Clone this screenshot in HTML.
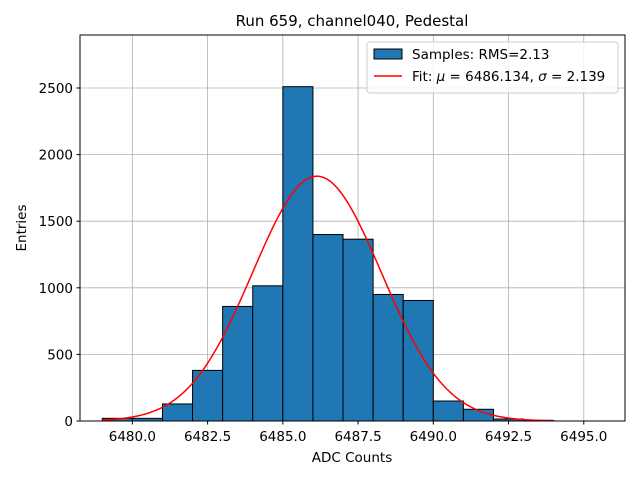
<!DOCTYPE html>
<html><head><meta charset="utf-8"><style>
body{margin:0;background:#fff;}
svg text{font-family:"DejaVu Sans","Liberation Sans",sans-serif;}
</style></head><body>
<svg id="chart" width="640" height="480" xmlns="http://www.w3.org/2000/svg">
<rect width="640" height="480" fill="#fff"/>
<g id="grid"></g>
<g id="bars"></g>
<path id="fit" fill="none" stroke="#ff0000" stroke-width="1.5"/>
<rect x="80" y="35" width="545" height="386" fill="none" stroke="#000" stroke-width="1"/>
<g id="ticks"></g>
<text x="352" y="26" font-size="15" text-anchor="middle">Run 659, channel040, Pedestal</text>
<text x="352" y="462" font-size="13.5" text-anchor="middle">ADC Counts</text>
<text x="26" y="228" font-size="13.5" text-anchor="middle" transform="rotate(-90 26 228)">Entries</text>
<g>
<rect x="367" y="42" width="251" height="51" rx="3" fill="#fff" fill-opacity="0.8" stroke="#ccc"/>
<rect x="374" y="49" width="28" height="10" fill="#1f77b4" stroke="#000"/>
<text x="412" y="59" font-size="13.5">Samples: RMS=2.13</text>
<line x1="374" y1="76" x2="402" y2="76" stroke="#f00" stroke-width="1.5"/>
<text x="412" y="81" font-size="13.5">Fit: <tspan font-style="italic">μ</tspan> = 6486.134, <tspan font-style="italic">σ</tspan> = 2.139</text>
</g>
</svg>
<script>
const binEdges=[6479,6480,6481,6482,6483,6484,6485,6486,6487,6488,6489,6490,6491,6492,6493,6494];
const counts=[20,20,128,380,860,1015,2510,1400,1365,950,905,150,88,15,5];
const xTicks=[6480,6482.5,6485,6487.5,6490,6492.5,6495];
const yTicks=[0,500,1000,1500,2000,2500];
const fitMu=6486.134, fitSigma=2.139, fitAmp=1838;
const X0=80,X1=625,Y0=421,Y1=35,xmin=6478.26,xmax=6496.37,ymin=0,ymax=2898;
const sx=v=>X0+(v-xmin)/(xmax-xmin)*(X1-X0);
const sy=v=>Y0-(v-ymin)/(ymax-ymin)*(Y0-Y1);
const NS='http://www.w3.org/2000/svg';
function mk(t,a,p){const e=document.createElementNS(NS,t);for(const k in a)e.setAttribute(k,a[k]);p.appendChild(e);return e;}
const grid=document.getElementById('grid'),ticks=document.getElementById('ticks'),bars=document.getElementById('bars');
xTicks.forEach(v=>{const x=sx(v);
 const g=mk('line',{x1:x,x2:x,y1:Y1,y2:Y0,stroke:'#b0b0b0','stroke-width':0.8},grid);
 
 
 mk('line',{x1:x,x2:x,y1:Y0,y2:Y0+3.5,stroke:'#000'},ticks);
 const t=mk('text',{x:x,y:Y0+20,'font-size':13.5,'text-anchor':'middle'},ticks);t.textContent=v.toFixed(1);
 
 });
yTicks.forEach(v=>{const y=sy(v);
 const g=mk('line',{x1:X0,x2:X1,y1:y,y2:y,stroke:'#b0b0b0','stroke-width':0.8},grid);
 
 
 mk('line',{x1:X0-3.5,x2:X0,y1:y,y2:y,stroke:'#000'},ticks);
 const t=mk('text',{x:X0-7,y:y+5,'font-size':13.5,'text-anchor':'end'},ticks);t.textContent=v;
 
 });
counts.forEach((c,i)=>{const x=sx(binEdges[i]),w=sx(binEdges[i+1])-x;
 const r=mk('rect',{x:x,y:sy(c),width:w,height:sy(0)-sy(c),fill:'#1f77b4',stroke:'#000','stroke-width':1},bars);
 
 });
let d='';const a=binEdges[0],b=binEdges[binEdges.length-1];
for(let i=0;i<=300;i++){const v=a+(b-a)*i/300;const f=fitAmp*Math.exp(-0.5*Math.pow((v-fitMu)/fitSigma,2));
 d+=(i?'L':'M')+sx(v).toFixed(2)+','+sy(f).toFixed(2);}
document.getElementById('fit').setAttribute('d',d);
</script>
</body></html>
